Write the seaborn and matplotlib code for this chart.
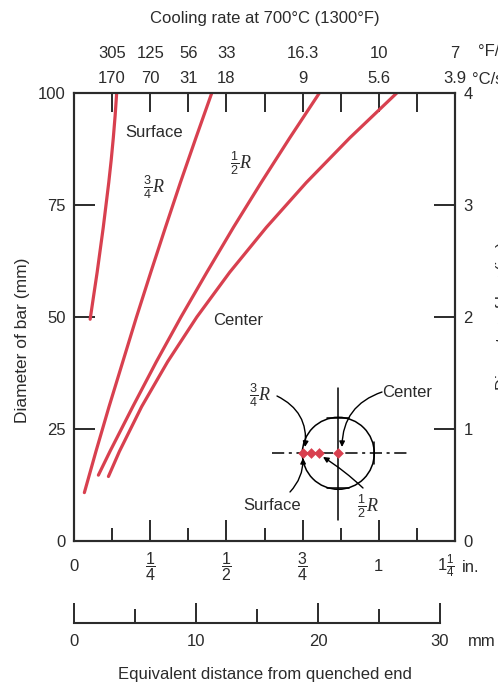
import pandas as pd
import matplotlib
import matplotlib.pyplot as plt
import seaborn as sns
from matplotlib.patches import Circle

# distance from quenched end (in.) vs bar diameter (mm)
surface_in = [0.053, 0.065, 0.076, 0.086, 0.096, 0.105, 0.114, 0.122, 0.129, 0.135, 0.140]
surface_mm = [49.5, 55, 60, 65, 70, 75, 80, 85, 90, 95, 100]
three_q_in = [0.034, 0.072, 0.115, 0.160, 0.205, 0.252, 0.300, 0.349, 0.400, 0.452]
three_q_mm = [10.8, 20, 30, 40, 50, 60, 70, 80, 90, 100]
half_in = [0.080, 0.118, 0.193, 0.270, 0.351, 0.436, 0.523, 0.614, 0.708, 0.805]
half_mm = [14.7, 20, 30, 40, 50, 60, 70, 80, 90, 100]
center_in = [0.113, 0.149, 0.222, 0.307, 0.403, 0.511, 0.631, 0.762, 0.905, 1.059]
center_mm = [14.4, 20, 30, 40, 50, 60, 70, 80, 90, 100]

# cooling rate scale on top
rate_pos_in = [0.125, 0.25, 0.375, 0.5, 0.75, 1.0, 1.25]
rate_F = ["305", "125", "56", "33", "16.3", "10", "7"]
rate_C = ["170", "70", "31", "18", "9", "5.6", "3.9"]

inch_ticks = [0, 0.25, 0.5, 0.75, 1.0, 1.25]
inch_labels = ["0", r"$\dfrac{1}{4}$", r"$\dfrac{1}{2}$", r"$\dfrac{3}{4}$", "1", r"$1\frac{1}{4}$"]
mm_ticks = [0, 10, 20, 30]
diam_mm_ticks = [0, 25, 50, 75, 100]
diam_in_ticks = [0, 1, 2, 3, 4]

RED = "#d8404f"
DARK = "#2b2b2b"

sns.set_style("ticks")
plt.rcParams["font.family"] = ["Liberation Sans", "DejaVu Sans"]
plt.rcParams["mathtext.fontset"] = "custom"
plt.rcParams["mathtext.rm"] = "Liberation Sans"
plt.rcParams["mathtext.it"] = "Liberation Serif:italic"
plt.rcParams["font.size"] = 12
plt.rcParams["text.color"] = DARK
plt.rcParams["xtick.color"] = DARK
plt.rcParams["ytick.color"] = DARK

W, H = 498, 688
fig = plt.figure(figsize=(W / 100, H / 100), dpi=100)

def fx(px):
    return px / W

def fy(py):
    return 1 - py / H

ax = fig.add_axes([fx(74), fy(541), 381 / W, 448 / H])

frames = []
for name, xs, ys in [("Surface", surface_in, surface_mm),
                     ("3/4R", three_q_in, three_q_mm),
                     ("1/2R", half_in, half_mm),
                     ("Center", center_in, center_mm)]:
    frames.append(pd.DataFrame({"position": name, "dist_in": xs, "diam_mm": ys}))
df = pd.concat(frames, ignore_index=True)

sns.lineplot(data=df, x="dist_in", y="diam_mm", units="position", estimator=None,
             sort=False, color=RED, lw=2.3, ax=ax, legend=False)

ax.set_xlim(0, 1.25)
ax.set_ylim(0, 100)
ax.set_xlabel("")
ax.set_ylabel("")
for s in ax.spines.values():
    s.set_visible(True)
    s.set_color(DARK)
    s.set_linewidth(1.5)

# bottom inch scale
ax.set_xticks(inch_ticks)
ax.set_xticklabels(inch_labels)
ax.set_xticks([0.125, 0.375, 0.625, 0.875, 1.125], minor=True)
ax.tick_params(axis="x", which="major", bottom=True, top=False, direction="in",
               length=15, width=1.4, pad=18.5)
ax.tick_params(axis="x", which="minor", bottom=True, top=False, direction="in",
               length=9.5, width=1.4)
for lab in ax.get_xticklabels():
    lab.set_va("center")
for lab in ax.get_xticklabels()[1:4]:
    lab.set_fontsize(11.5)
ax.get_xticklabels()[-1].set_ha("right")
ax.get_xticklabels()[-1].set_x(1.262)
fig.text(fx(462), fy(567), "in.", ha="left", va="center")

# left diameter scale (mm)
ax.set_yticks(diam_mm_ticks)
ax.tick_params(axis="y", left=True, right=False, direction="in", length=15, width=1.4, pad=6)
fig.text(fx(23), fy(340), "Diameter of bar (mm)", rotation=90, ha="center", va="center", fontsize=12.5)

# right diameter scale (in.)
ax2 = ax.twinx()
ax2.set_ylim(0, 4)
ax2.set_yticks(diam_in_ticks)
ax2.tick_params(axis="y", right=True, direction="in", length=15, width=1.4, pad=6)
for s in ax2.spines.values():
    s.set_color(DARK)
    s.set_linewidth(1.5)
fig.text(fx(495.5), fy(316), "Diameter of bar (in.)", rotation=90, ha="left", va="center")

# top cooling rate scale
top = ax.secondary_xaxis("top")
top.set_xticks(rate_pos_in)
top.set_xticklabels([f"{a}\n{b}" for a, b in zip(rate_F, rate_C)])
top.set_xticks([0.625, 0.875, 1.125], minor=True)
top.tick_params(which="both", top=True, direction="in", length=13.5, width=1.4, pad=5)
for lab in top.get_xticklabels():
    lab.set_linespacing(1.85)
top.spines["top"].set_visible(False)
fig.text(fx(478), fy(52), "°F/s", ha="left", va="center")
fig.text(fx(472), fy(80), "°C/s", ha="left", va="center")
fig.text(fx(265), fy(18), "Cooling rate at 700°C (1300°F)", ha="center", va="center")

# curve labels
ax.text(0.167, 91.1, "Surface", ha="left", va="center")
ax.text(0.226, 79, r"$\frac{3}{4}R$", ha="left", va="center", fontsize=13)
ax.text(0.512, 84.3, r"$\frac{1}{2}R$", ha="left", va="center", fontsize=13)
ax.text(0.457, 49.3, "Center", ha="left", va="center")

# mm scale
axm = fig.add_axes([fx(74), fy(623), 366 / W, 0.02])
axm.set_facecolor("none")
axm.set_xlim(0, 30)
axm.set_yticks([])
for side in ["left", "right", "top"]:
    axm.spines[side].set_visible(False)
axm.spines["bottom"].set_color(DARK)
axm.spines["bottom"].set_linewidth(1.5)
axm.set_xticks(mm_ticks)
axm.set_xticks([5, 15, 25], minor=True)
axm.tick_params(axis="x", which="major", bottom=True, direction="in", length=14.5, width=1.4, pad=8)
axm.tick_params(axis="x", which="minor", bottom=True, direction="in", length=10, width=1.4)
fig.text(fx(468), fy(641), "mm", ha="left", va="center")
fig.text(fx(265), fy(675), "Equivalent distance from quenched end", ha="center", va="center")

# bar cross-section sketch
ins = fig.add_axes([fx(230), fy(530), 220 / W, 160 / H])
ins.set_xlim(0, 220)
ins.set_ylim(160, 0)
ins.axis("off")
cx, cy, r = 108.3, 83.3, 36
ins.add_patch(Circle((cx, cy), r, fill=False, ec="k", lw=1.1))
ins.plot([41.7, 176.7], [cy, cy], color="k", lw=1.1, ls=(0, (8, 3, 2, 3)))
ins.plot([cx, cx], [18, 150], color="k", lw=1.1)
ins.plot([cx - 11, cx + 11], [cy - 35, cy - 35], color="k", lw=1.1)
ins.plot([cx - 11, cx + 11], [cy + 35, cy + 35], color="k", lw=1.1)
ins.plot([cx + 35.5, cx + 35.5], [cy - 11, cy + 11], color="k", lw=1.1)
ins.scatter([72.7, 80.7, 89, 108.3], [cy] * 4, s=30, color=RED, zorder=3, marker="D", lw=0)
arrow = dict(arrowstyle="-|>", color="k", lw=1, mutation_scale=8, shrinkA=0, shrinkB=0)
ins.annotate("", xy=(75, 77), xytext=(47, 26),
             arrowprops=dict(arrow, connectionstyle="arc3,rad=-0.35"))
ins.annotate("", xy=(112, 77), xytext=(152, 22),
             arrowprops=dict(arrow, connectionstyle="arc3,rad=0.35"))
ins.annotate("", xy=(73, 88), xytext=(60, 122),
             arrowprops=dict(arrow, connectionstyle="arc3,rad=0.2"))
ins.annotate("", xy=(93, 87), xytext=(133, 118),
             arrowprops=dict(arrow, connectionstyle="arc3,rad=0.05"))
ins.text(30, 25, r"$\frac{3}{4}R$", ha="center", va="center", fontsize=13)
ins.text(152, 22, "Center", ha="left", va="center")
ins.text(42, 135, "Surface", ha="center", va="center")
ins.text(138, 136, r"$\frac{1}{2}R$", ha="center", va="center", fontsize=13)

fig.savefig("out.png", dpi=100)
